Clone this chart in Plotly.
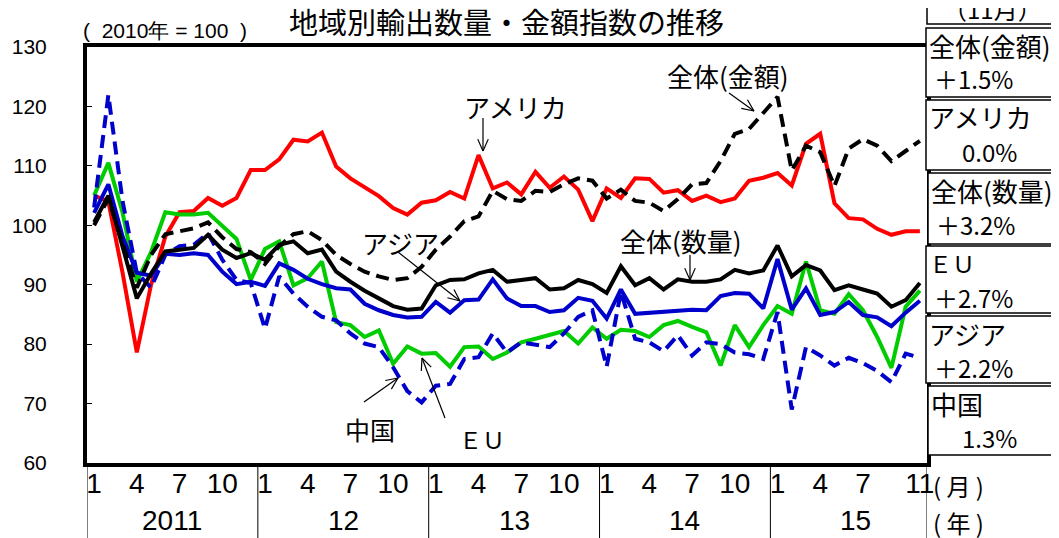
import math
import plotly.graph_objects as go

# ---- data (2011/1 .. 2015/11, 2010 = 100) ----
month_labels = ["1", "4", "7", "10"] * 4 + ["1", "4", "7", "11"]
month_positions = [0, 3, 6, 9, 12, 15, 18, 21, 24, 27, 30, 33, 36, 39, 42, 45, 48, 51, 54, 58]
year_labels = ["2011", "12", "13", "14", "15"]

total_value = [100.0, 104.5, 97.0, 89.5, 95.0, 98.5, 99.0, 99.5, 100.5, 98.0, 96.0, 95.5,
               93.5, 96.5, 98.5, 99.0, 97.5, 95.0, 93.5, 92.2, 91.4, 90.8, 91.1, 93.0,
               95.9, 98.1, 100.7, 101.5, 105.8, 104.4, 104.1, 105.8, 105.6, 106.9, 107.9, 107.5,
               104.5, 106.0, 104.1, 103.8, 102.4, 104.4, 106.9, 107.1, 110.8, 115.4, 116.2, 119.0,
               121.6, 109.2, 113.4, 112.3, 106.6, 112.9, 114.5, 113.4, 110.8, 112.5, 114.2]
usa = [105.0, 104.0, 92.0, 78.6, 90.0, 98.1, 102.2, 102.4, 104.6, 103.3, 104.6, 109.3,
       109.3, 111.1, 114.4, 114.1, 115.6, 109.9, 107.9, 106.3, 104.9, 102.9, 101.8, 103.8,
       104.2, 105.6, 104.5, 111.8, 106.2, 107.2, 105.2, 109.0, 106.3, 108.2, 106.0, 100.7,
       106.2, 104.6, 107.9, 107.8, 105.5, 105.9, 104.1, 105.0, 103.9, 104.5, 107.5, 108.0,
       108.8, 106.7, 113.7, 115.4, 103.7, 101.2, 101.0, 99.4, 98.4, 99.0, 99.0]
total_volume = [100.5, 105.0, 96.4, 87.7, 91.9, 95.6, 95.9, 96.2, 98.4, 95.9, 94.5, 95.3,
                94.2, 96.7, 97.3, 95.3, 95.9, 92.2, 90.5, 89.0, 87.7, 86.4, 85.8, 86.0,
                89.9, 90.8, 90.9, 91.9, 92.5, 90.5, 90.8, 91.1, 89.2, 89.4, 90.8, 90.1,
                88.6, 93.1, 89.9, 91.1, 89.2, 90.9, 90.5, 90.5, 90.9, 92.5, 91.9, 92.4,
                96.6, 91.4, 93.3, 92.4, 89.1, 89.9, 89.2, 88.5, 86.3, 87.4, 90.3]
eu = [105.0, 110.5, 102.1, 90.5, 95.5, 102.2, 101.8, 101.8, 102.1, 99.8, 97.7, 90.8,
      96.0, 97.3, 89.9, 91.1, 93.9, 83.7, 83.2, 81.2, 82.3, 76.7, 79.6, 78.4,
      78.5, 76.2, 79.5, 79.6, 77.5, 78.6, 80.3, 80.9, 81.6, 82.2, 80.1, 82.8,
      80.9, 82.4, 82.2, 81.2, 83.2, 83.9, 82.9, 82.0, 76.4, 83.2, 79.5, 83.2,
      86.4, 85.1, 93.9, 85.7, 85.1, 88.4, 85.7, 81.2, 76.0, 86.3, 89.0]
asia = [102.1, 106.9, 98.1, 92.0, 91.5, 95.2, 95.0, 95.3, 95.0, 92.2, 90.1, 90.5,
        89.8, 93.6, 92.5, 91.0, 90.1, 89.4, 89.2, 86.8, 85.7, 84.9, 84.5, 84.6,
        87.1, 85.3, 87.4, 87.5, 90.9, 87.7, 86.4, 86.4, 85.4, 85.7, 87.8, 87.3,
        84.3, 89.2, 85.1, 85.3, 85.4, 85.7, 85.8, 85.7, 88.1, 88.6, 88.5, 86.0,
        94.3, 85.8, 89.4, 84.9, 85.4, 87.1, 84.9, 84.5, 83.0, 85.3, 87.3]
china = [103.0, 121.9, 104.0, 92.0, 89.5, 95.0, 96.5, 96.7, 98.7, 94.2, 90.8, 90.3,
         82.6, 91.4, 88.5, 86.3, 84.6, 84.0, 81.8, 80.1, 79.5, 76.1, 72.1, 70.2,
         73.0, 73.3, 77.5, 77.8, 81.8, 78.6, 80.3, 79.9, 79.5, 81.8, 84.6, 85.7,
         76.2, 88.8, 80.9, 80.3, 78.8, 81.5, 78.1, 80.3, 80.0, 78.6, 78.3, 77.5,
         85.4, 69.0, 79.5, 78.1, 76.4, 77.7, 76.8, 75.5, 73.6, 78.4, 77.7]

box_titles = ["全体(金額)", "アメリカ", "全体(数量)", "ＥＵ", "アジア", "中国"]
box_values = ["＋1.5%", "0.0%", "＋3.2%", "＋2.7%", "＋2.2%", "1.3%"]

# ---- layout geometry (reference-screen pixels; page body adds an 8px offset) ----
OFF = 8
W, H = 1059 - OFF, 538 - OFF
L, R, T, B = 87, 927, 47, 463
PW, PH = R - L, B - T


def px(x):
    return (x - L) / PW


def py(y):
    return (B - y) / PH


JP = "Noto Sans CJK JP"
NUM = "Liberation Sans, Arial"
NARROW = "Liberation Sans Narrow, Liberation Sans, Arial"

n = len(usa)
xs = list(range(n))

fig = go.Figure()
series = [
    (usa, "#FF0000", "solid"),
    (eu, "#00CC00", "solid"),
    (china, "#0000CC", "13px,7px"),
    (asia, "#0000CC", "solid"),
    (total_volume, "#000000", "solid"),
    (total_value, "#000000", "13px,7px"),
]
for ys, col, dash in series:
    fig.add_trace(go.Scatter(x=xs, y=ys, mode="lines",
                             line=dict(color=col, width=4, dash=dash),
                             showlegend=False, hoverinfo="skip"))

shapes = []
annotations = []


def text(t, x, y, size, family=JP, xanchor="center"):
    annotations.append(dict(xref="paper", yref="paper", x=px(x), y=py(y), text=t,
                            showarrow=False, xanchor=xanchor, yanchor="middle",
                            font=dict(family=family, size=size, color="#000")))


def pline(x0, y0, x1, y1, width=1.2, layer="above"):
    shapes.append(dict(type="line", xref="paper", yref="paper", x0=px(x0), y0=py(y0),
                       x1=px(x1), y1=py(y1), layer=layer,
                       line=dict(color="#000", width=width)))


def arrow(x0, y0, x1, y1, head=13, ang=24):
    pline(x0, y0, x1, y1)
    a = math.atan2(y0 - y1, x0 - x1)
    for s in (-1, 1):
        b = a + s * math.radians(ang)
        pline(x1, y1, x1 + head * math.cos(b), y1 + head * math.sin(b))


# year separators below the axis
for k in range(6):
    xv = -0.5 + 12 * k if k < 5 else n - 0.5
    shapes.append(dict(type="line", xref="x", yref="paper", x0=xv, x1=xv,
                       y0=0, y1=py(540), line=dict(color="#000000", width=1)))
for k, lab in enumerate(year_labels):
    annotations.append(dict(xref="x", yref="paper", x=5.5 + 12 * k, y=py(520),
                            text=lab, showarrow=False, xanchor="center", yanchor="middle",
                            font=dict(family=NARROW, size=28, color="#000")))

text("( 月 )", 958, 486, 24)
text("( 年 )", 958, 522, 24)

# title & unit
text("地域別輸出数量・金額指数の推移", 506, 21, 29)
text("(  2010年 = 100  )", 165, 30, 21, family=NUM)

# in-chart labels with arrows
text("アメリカ", 516, 106, 26)
arrow(483, 118, 483, 151)
text("全体(金額)", 728, 75, 26)
arrow(729, 93, 754, 111)
text("全体(数量)", 681, 240, 26)
arrow(690, 255, 690, 280)
text("アジア", 400, 242, 26)
arrow(398, 252, 460, 301)
text("中国", 370, 429, 25)
arrow(364, 402, 398, 378)
text("ＥＵ", 482, 439, 23)
arrow(445, 418, 422, 358)

# right-hand boxes
shapes.append(dict(type="rect", xref="paper", yref="paper", x0=px(927), x1=px(1058),
                   y0=py(24), y1=py(-5), fillcolor="#FFFFFF", layer="above",
                   line=dict(color="#000", width=1.5)))
text("（11月）", 992, 8, 24)
box_geo = [(926, 1057, 28, 97), (926, 1057, 100, 170), (928, 1059, 173, 244),
           (926, 1057, 246, 313), (926, 1052, 316, 383), (928, 1055, 386, 455)]
for (x0, x1, y0, y1), t1, t2 in zip(box_geo, box_titles, box_values):
    shapes.append(dict(type="rect", xref="paper", yref="paper", x0=px(x0), x1=px(x1),
                       y0=py(y1), y1=py(y0), fillcolor="#FFFFFF", layer="above",
                       line=dict(color="#000", width=1.5)))
    text(t1, x0 + 1, y0 + 17, 26 if t1 != "ＥＵ" else 23, xanchor="left")
    if t2.startswith("＋"):
        text(t2, x0 + 6, y0 + 51, 24, xanchor="left")
    else:
        text(t2, 1019, y0 + 51, 24, xanchor="right")

fig.update_layout(
    width=W, height=H,
    margin=dict(l=L - OFF, r=W - (R - OFF), t=T - OFF, b=H - (B - OFF), autoexpand=False),
    plot_bgcolor="#FFFFFF", paper_bgcolor="#FFFFFF",
    shapes=shapes, annotations=annotations,
    xaxis=dict(range=[-0.5, n - 0.5], tickmode="array", tickvals=month_positions,
               ticktext=month_labels, ticks="", showgrid=False, zeroline=False,
               showline=True, linecolor="#000", linewidth=4, mirror=True,
               ticklabelstandoff=-8, automargin=False,
               tickfont=dict(family=NARROW, size=28, color="#000")),
    yaxis=dict(range=[60, 130], dtick=10, ticks="inside", ticklen=5, tickwidth=1,
               tickcolor="#000", showgrid=False, zeroline=False,
               showline=True, linecolor="#000", linewidth=4, mirror=True,
               ticklabelstandoff=32, automargin=False,
               tickfont=dict(family=NUM, size=21, color="#000")),
)

fig.write_html("out.html")
